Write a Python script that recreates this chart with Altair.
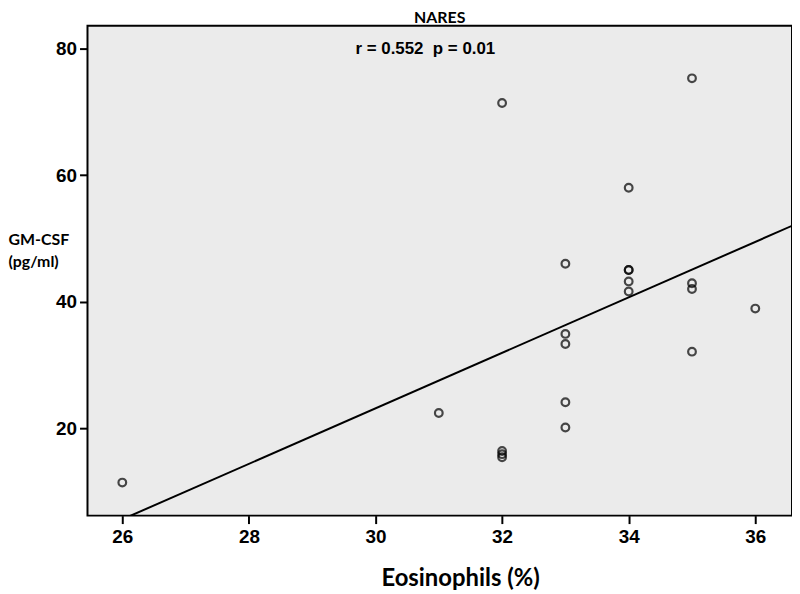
import altair as alt
import pandas as pd

# Data
eosinophils = [26, 31, 32, 32, 32, 32, 33, 33, 33, 33, 33,
               34, 34, 34, 34, 34, 35, 35, 35, 35, 36]
gmcsf = [11.4, 22.4, 16.4, 15.9, 15.4, 71.4, 20.1, 24.1, 33.3, 34.9, 46.0,
         45.0, 45.0, 43.2, 41.6, 58.0, 42.9, 42.0, 32.1, 75.3, 38.9]
x_ticks = [26, 28, 30, 32, 34, 36]
y_ticks = [20, 40, 60, 80]
title_text = ["NARES"]
annotation = ["r = 0.552\u00a0\u00a0p = 0.01"]

df = pd.DataFrame({"Eosinophils": eosinophils, "GMCSF": gmcsf})

x_dom = [25.45, 36.58]
y_dom = [6.18, 83.61]

x_enc = alt.X("Eosinophils:Q",
              scale=alt.Scale(domain=x_dom, nice=False, zero=False),
              axis=alt.Axis(values=x_ticks, format="d", title="Eosinophils (%)",
                            grid=False, domain=False,
                            tickColor="black", tickWidth=2, tickSize=8,
                            labelFont="Liberation Sans", labelFontWeight="bold",
                            labelFontSize=19, labelColor="black", labelPadding=4,
                            titleFont="Lato", titleFontWeight="bold",
                            titleFontSize=24, titleColor="black",
                            titlePadding=20, titleX=375))
y_enc = alt.Y("GMCSF:Q",
              scale=alt.Scale(domain=y_dom, nice=False, zero=False),
              axis=alt.Axis(values=y_ticks, format="d", title=["GM-CSF", "(pg/ml)"],
                            grid=False, domain=False,
                            tickColor="black", tickWidth=2, tickSize=8,
                            labelFont="Liberation Sans", labelFontWeight="bold",
                            labelFontSize=19, labelColor="black", labelPadding=3,
                            titleFont="Lato", titleFontWeight="bold",
                            titleFontSize=16, titleColor="black",
                            titleAngle=0, titleAlign="left", titleBaseline="top",
                            titleX=-80, titleY=207, titleLineHeight=22))

points = alt.Chart(df).mark_point(
    shape="circle", filled=False, color="black", strokeWidth=2.2, size=60
).encode(x=x_enc, y=y_enc)

line = alt.Chart(df).transform_regression(
    "Eosinophils", "GMCSF", extent=x_dom
).mark_line(color="black", strokeWidth=2, clip=True).encode(
    x=alt.X("Eosinophils:Q"), y=alt.Y("GMCSF:Q")
)

ann = alt.Chart(pd.DataFrame({"t": annotation})).mark_text(
    font="Liberation Sans", fontWeight="bold", fontSize=17, color="black",
    align="center", baseline="middle"
).encode(x=alt.value(340), y=alt.value(23), text="t:N")

ttl = alt.Chart(pd.DataFrame({"t": title_text})).mark_text(
    font="Lato", fontWeight="bold", fontSize=16, color="black",
    align="center", baseline="top", clip=False
).encode(x=alt.value(354.5), y=alt.value(-16), text="t:N")

chart = alt.layer(points, line, ann, ttl).properties(
    width=709, height=493,
    autosize=alt.AutoSizeParams(type="none"),
    padding={"left": 80, "top": 16, "right": 0, "bottom": 76},
    background="white",
).configure_view(
    fill="#ebebeb", stroke="black", strokeWidth=2
)

chart.save("out.html", embed_options={"renderer": "svg", "actions": False})
